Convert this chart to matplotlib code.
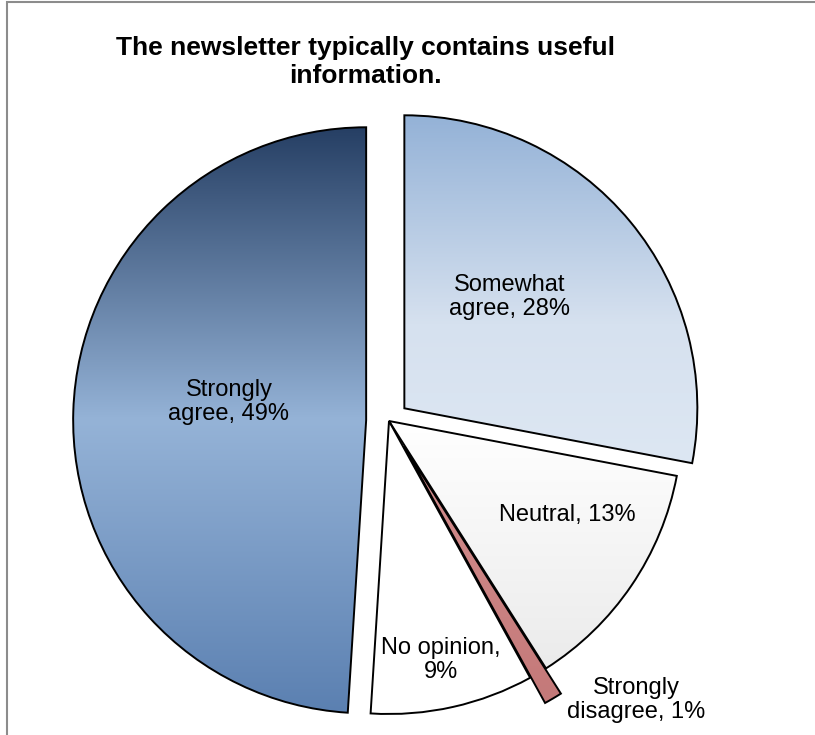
import numpy as np
import matplotlib.pyplot as plt
from matplotlib.colors import LinearSegmentedColormap
from matplotlib.patches import Rectangle

plt.rcParams['font.family'] = ['Liberation Sans', 'DejaVu Sans']

# dane ankiety
kategorie = ['Somewhat\nagree', 'Neutral', 'Strongly\ndisagree', 'No opinion,\n', 'Strongly\nagree']
procenty = [28, 13, 1, 9, 49]
tytul = 'The newsletter typically contains useful\ninformation.'

# wysunięcie wycinków (ułamek promienia)
wysuniecie = [0.068, 0.0, 0.10, 0.0, 0.078]

# gradienty pionowe: (pozycja od góry, kolor)
gradienty = [
    [(0.0, '#94b2d7'), (0.6, '#d6e1ef'), (1.0, '#dde7f3')],
    [(0.0, '#ffffff'), (1.0, '#ebebeb')],
    [(0.0, '#d38e8e'), (1.0, '#c47979')],
    [(0.0, '#ffffff'), (1.0, '#ffffff')],
    [(0.0, '#263f64'), (0.5, '#95b3d7'), (1.0, '#5b80b1')],
]

# położenie etykiet w pikselach obrazka
etykiety_px = [(510, 297), (567, 515), (636, 700), (441, 660), (229, 402)]

W, H = 815, 735
cx, cy, R = 389, 421, 293


def px(x, y):
    return (x - cx) / R, (cy - y) / R


fig = plt.figure(figsize=(W / 100, H / 100), dpi=100)
ax = fig.add_axes([0, 0, 1, 1])

wedges, _ = ax.pie(procenty, explode=wysuniecie, startangle=90, counterclock=False,
                   radius=1, wedgeprops=dict(edgecolor='black', linewidth=1.4))

for w, grad in zip(wedges, gradienty):
    w.set_facecolor('none')
    w.set_zorder(3)
    v = w.get_path().vertices
    x0, x1 = v[:, 0].min(), v[:, 0].max()
    y0, y1 = v[:, 1].min(), v[:, 1].max()
    cmap = LinearSegmentedColormap.from_list('g', grad)
    img = np.linspace(0, 1, 256).reshape(-1, 1)
    im = ax.imshow(img, cmap=cmap, extent=(x0, x1, y0, y1), origin='upper',
                   aspect='auto', zorder=2, interpolation='bilinear')
    im.set_clip_path(w)

for k, p, (lx, ly) in zip(kategorie, procenty, etykiety_px):
    if k.endswith('\n'):
        txt = f'{k}{p}%'
    else:
        txt = f'{k}, {p}%'
    ax.text(*px(lx, ly), txt, ha='center', va='center', fontsize=17,
            linespacing=1.15, zorder=5)

ax.set_xlim(-cx / R, (W - cx) / R)
ax.set_ylim(-(H - cy) / R, cy / R)
ax.set_aspect('equal')
ax.axis('off')

fig.text(365 / W, 1 - 62 / H, tytul, ha='center', va='center', fontsize=19,
         fontweight='bold', linespacing=1.2)

# ramka wykresu
fig.patches.append(Rectangle((7 / W, -0.1), 1.2, 1 - 2 / H + 0.1, transform=fig.transFigure,
                             fill=False, edgecolor='#8c8c8c', linewidth=1.5))

fig.savefig('out.png', dpi=100)
